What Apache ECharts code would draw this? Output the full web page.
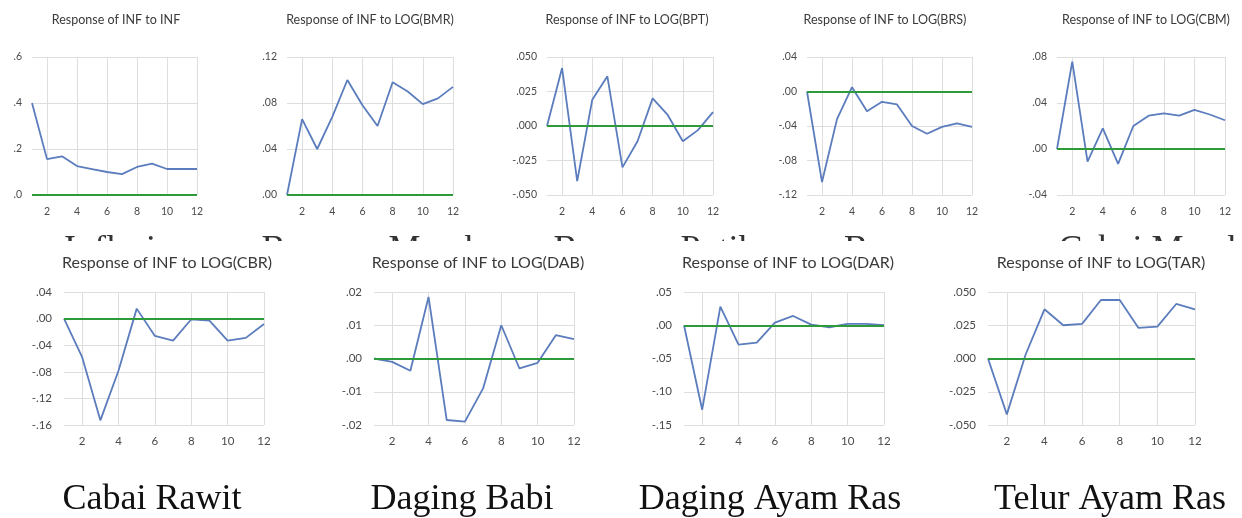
<!DOCTYPE html>
<html>
<head>
<meta charset="utf-8">
<script src="https://cdn.jsdelivr.net/npm/echarts@6/dist/echarts.min.js"></script>
<style>
html,body{margin:0;padding:0;background:#fff;}
#c{width:1242px;height:518px;}
</style>
</head>
<body>
<div id="c"></div>
<script>
// ---- data ----
const periods = ['1','2','3','4','5','6','7','8','9','10','11','12'];
const panelTitles = [
  'Response of INF to INF','Response of INF to LOG(BMR)','Response of INF to LOG(BPT)',
  'Response of INF to LOG(BRS)','Response of INF to LOG(CBM)',
  'Response of INF to LOG(CBR)','Response of INF to LOG(DAB)',
  'Response of INF to LOG(DAR)','Response of INF to LOG(TAR)'
];
const infINF = [0.400,0.156,0.168,0.126,0.113,0.100,0.091,0.122,0.136,0.113,0.113,0.113];
const infBMR = [0.000,0.066,0.040,0.068,0.100,0.078,0.060,0.098,0.090,0.079,0.084,0.094];
const infBPT = [0.000,0.042,-0.040,0.019,0.036,-0.030,-0.011,0.020,0.008,-0.011,-0.003,0.010];
const infBRS = [0.000,-0.105,-0.032,0.005,-0.023,-0.012,-0.015,-0.040,-0.049,-0.041,-0.037,-0.041];
const infCBM = [0.000,0.076,-0.011,0.018,-0.013,0.020,0.029,0.031,0.029,0.034,0.030,0.025];
const infCBR = [0.000,-0.058,-0.153,-0.078,0.015,-0.026,-0.033,-0.001,-0.003,-0.033,-0.029,-0.008];
const infDAB = [0.000,-0.001,-0.0037,0.0185,-0.0185,-0.019,-0.009,0.010,-0.003,-0.0013,0.007,0.0058];
const infDAR = [0.000,-0.127,0.028,-0.029,-0.026,0.004,0.014,0.001,-0.003,0.002,0.002,0.000];
const infTAR = [0.000,-0.042,0.003,0.037,0.025,0.026,0.044,0.044,0.023,0.024,0.041,0.037];
const seriesValues = [infINF,infBMR,infBPT,infBRS,infCBM,infCBR,infDAB,infDAR,infTAR];
// y-axis tick settings: min, max, step, decimals
const yMin = [0, 0, -0.05, -0.12, -0.04, -0.16, -0.02, -0.15, -0.05];
const yMax = [0.6, 0.12, 0.05, 0.04, 0.08, 0.04, 0.02, 0.05, 0.05];
const yStep = [0.2, 0.04, 0.025, 0.04, 0.04, 0.04, 0.01, 0.05, 0.025];
const yDecimals = [1, 2, 3, 2, 2, 2, 2, 2, 3];
const topRowHidden = ['Inflasi','Bawang Merah','Bawang Putih','Beras','Cabai Merah'];
const bottomLabels = ['Cabai Rawit','Daging Babi','Daging Ayam Ras','Telur Ayam Ras'];

// ---- layout ----
const layout = [
  {l:32, t:57, w:165, h:138, tx:116, ty:20},
  {l:287, t:57, w:166, h:138, tx:370, ty:20},
  {l:547, t:57, w:166, h:138, tx:627, ty:20},
  {l:807, t:57, w:165, h:138, tx:885, ty:20},
  {l:1057, t:57, w:168, h:138, tx:1146, ty:20},
  {l:64, t:292, w:200, h:133, tx:167, ty:263},
  {l:374, t:292, w:200, h:133, tx:478, ty:263},
  {l:684, t:292, w:200, h:133, tx:788, ty:263},
  {l:988, t:292, w:207, h:133, tx:1101, ty:263}
];
const hiddenX = [110, 372, 655, 885, 1152];
const bottomX = [152, 462, 770, 1110];

const fontSans = 'Lato,"Open Sans",sans-serif';
const fontSerif = '"Liberation Serif","DejaVu Serif",serif';
const blue = '#5b7cbd', green = '#2f9a3a', grid = '#dedede', lab = '#4a4a4a';

const fmt = d => v => {
  let s = Number(v).toFixed(d);
  if (/^-0\.0*$/.test(s)) s = s.slice(1);
  return s.replace(/^(-?)0\./, '$1.');
};
const evenIdx = i => i % 2 === 1;

const grids = [], xAxes = [], yAxes = [], series = [], graphics = [];
layout.forEach((p, i) => {
  const bottom = i >= 5;
  const fs = bottom ? 11.5 : 10.5;
  grids.push({left:p.l, top:p.t, width:p.w, height:p.h, containLabel:false});
  xAxes.push({
    type:'category', gridIndex:i, data:periods, boundaryGap:false,
    axisLine:{show:false}, axisTick:{show:false},
    axisLabel:{interval:evenIdx, color:lab, fontSize:fs, fontFamily:fontSans, margin:bottom?10:11},
    splitLine:{show:true, interval:evenIdx, lineStyle:{color:grid, width:1}}
  });
  yAxes.push({
    type:'value', gridIndex:i, min:yMin[i], max:yMax[i], interval:yStep[i],
    axisLine:{show:false}, axisTick:{show:false},
    axisLabel:{formatter:fmt(yDecimals[i]), color:lab, fontSize:fs, fontFamily:fontSans, margin:bottom?12:10},
    splitLine:{show:true, lineStyle:{color:grid, width:1}}
  });
  series.push({
    type:'line', xAxisIndex:i, yAxisIndex:i, data:seriesValues[i],
    showSymbol:false, symbol:'none', silent:true, z:3,
    lineStyle:{color:blue, width:1.8},
    markLine:{silent:true, symbol:['none','none'], label:{show:false},
      lineStyle:{color:green, width:2, type:'solid'}, data:[{yAxis:0}]}
  });
  graphics.push({type:'text', x:p.tx, y:p.ty, z:20,
    style:{text:panelTitles[i], fill:'#3a3a3a', font:(bottom?'16px ':'12.5px ')+fontSans,
      textAlign:'center', textVerticalAlign:'middle', align:'center', verticalAlign:'middle'}});
});
topRowHidden.forEach((t, i) => {
  graphics.push({type:'text', x:hiddenX[i], y:269, z:5,
    style:{text:t, fill:'#333', font:'36px '+fontSerif,
      textAlign:'center', textVerticalAlign:'bottom', align:'center', verticalAlign:'bottom'}});
});
graphics.push({type:'rect', z:10, shape:{x:0, y:241, width:1242, height:32}, style:{fill:'#fff'}});
bottomLabels.forEach((t, i) => {
  graphics.push({type:'text', x:bottomX[i], y:500, z:20,
    style:{text:t, fill:'#111', font:'36px '+fontSerif,
      textAlign:'center', textVerticalAlign:'middle', align:'center', verticalAlign:'middle'}});
});

const chart = echarts.init(document.getElementById('c'), null, {renderer:'canvas'});
chart.setOption({
  animation:false,
  backgroundColor:'#fff',
  grid:grids, xAxis:xAxes, yAxis:yAxes, series:series,
  graphic:{elements:graphics}
});
</script>
</body>
</html>
